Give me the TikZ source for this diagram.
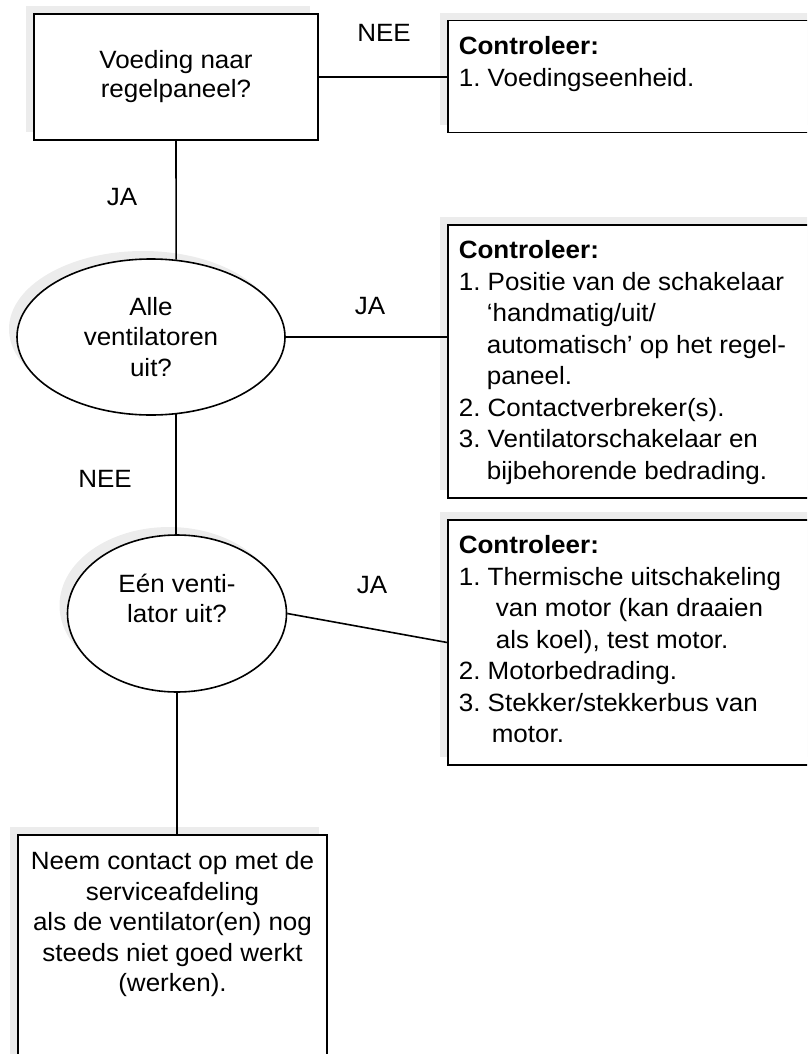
\documentclass[tikz,border=0pt]{standalone}
\usepackage{fontspec}
\setmainfont{Liberation Sans}[FakeStretch=1.04]
\usetikzlibrary{shapes.geometric}
\frenchspacing
\begin{document}
\begin{tikzpicture}[x=1pt,y=-1pt,line width=1.6pt,
  shadowed/.style={preaction={fill=gray!15,draw=none,transform canvas={xshift=-8pt,yshift=8pt}}},
  box/.style={draw,rectangle,fill=white,shadowed,inner sep=0pt},
  oval/.style={draw,ellipse,fill=white,shadowed,inner sep=0pt,align=center,font=\fontsize{25}{30.5}\selectfont},
  lbl/.style={anchor=base,inner sep=0pt,font=\fontsize{25}{30}\selectfont},
  ctltext/.style={anchor=north west,inner sep=0pt,align=left,font=\fontsize{25}{31.5}\selectfont}]
\useasboundingbox (0,0) rectangle (807,1054);
\clip (0,0) rectangle (807,1054);
\node[box, minimum width=284pt, minimum height=126pt, align=center, font=\fontsize{25}{29}\selectfont] (box1) at (176,77){Voeding naar\\regelpaneel?};
\node[box, minimum width=382pt, minimum height=112pt] (ctl1) at (639,76.7){};
\node[ctltext] (ctl1txt) at (458,36){\textbf{Controleer:}\\1. Voedingseenheid.};
\draw[](box1.east) -- (box1.east -| ctl1.west);
\node[lbl] (nee1) at (384,42){NEE};
\node[oval, minimum width=268pt, minimum height=156pt] (ell1) at (151,337){Alle\\ventilatoren\\uit?};
\draw[](box1.south) -- (ell1.72);
\node[lbl] (ja1) at (122,205){JA};
\node[box, minimum width=382pt, minimum height=273pt] (ctl2) at (639,361.5){};
\node[ctltext] (ctl2txt) at (458,240){\textbf{Controleer:}\\1. Positie van de schakelaar\\\hspace*{28pt}‘handmatig/uit/\\\hspace*{28pt}automatisch’ op het regel-\\\hspace*{28pt}paneel.\\2. Contactverbreker(s).\\3. Ventilatorschakelaar en\\\hspace*{28pt}bijbehorende bedrading.};
\draw[](ell1.east) -- (ell1.east -| ctl2.west);
\node[lbl] (ja2) at (370,314){JA};
\node[oval, minimum width=219pt, minimum height=157pt] (ell2) at (177,613.5){Eén venti-\\lator uit?\\\mbox{}};
\draw[](ell1.-72) -- (ell1.-72 |- ell2.north);
\node[lbl] (nee2) at (105,487){NEE};
\node[box, minimum width=382pt, minimum height=245pt] (ctl3) at (639,642.5){};
\node[ctltext] (ctl3txt) at (458,535){\textbf{Controleer:}\\1. Thermische uitschakeling\\\hspace*{37pt}van motor (kan draaien\\\hspace*{37pt}als koel), test motor.\\2. Motorbedrading.\\3. Stekker/stekkerbus van\\\hspace*{33pt}motor.};
\draw[](ell2.east) -- (ctl3.west);
\node[lbl] (ja3) at (372,593){JA};
\node[box, minimum width=309pt, minimum height=265pt] (box4) at (172.5,967.5){};
\node[anchor=north, inner sep=0pt, align=center, font=\fontsize{25}{30.5}\selectfont] (box4txt) at (172.5,851){Neem contact op met de\\serviceafdeling\\als de ventilator(en) nog\\steeds niet goed werkt\\(werken).};
\draw[](ell2.south) -- (ell2.south |- box4.north);
\end{tikzpicture}
\end{document}
